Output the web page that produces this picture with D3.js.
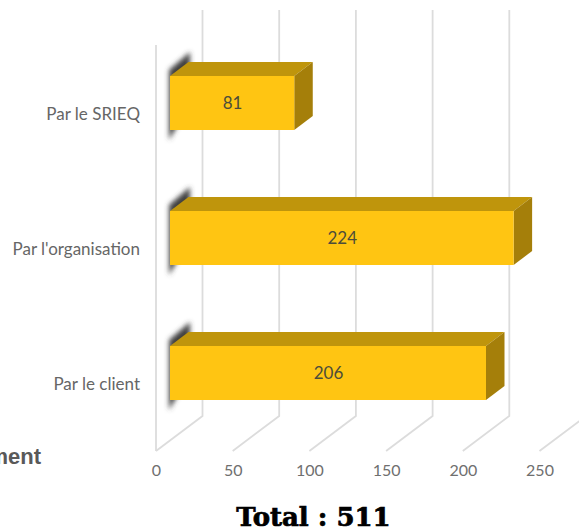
<!DOCTYPE html>
<html><head><meta charset="utf-8">
<script src="https://cdn.jsdelivr.net/npm/d3@7"></script>
<style>html,body{margin:0;padding:0;background:#fff;overflow:hidden}svg{display:block}</style>
</head><body><svg id="c" width="579" height="531"></svg>
<script>
const categories = ["Par le SRIEQ", "Par l'organisation", "Par le client"];
const values = [81, 224, 206];
const xTicks = [0, 50, 100, 150, 200, 250];
const titleText = "Total : 511";
const clippedAxisTitle = "ment";

const svg = d3.select("#c");
const x = d3.scaleLinear().domain([0, 250]).range([156, 539.5]);
const y = d3.scaleBand().domain(categories).range([35.5, 440.5]).paddingInner(0.6).paddingOuter(0.3);

const floorY = 451, backDx = 46.5, backDy = 35, topY = 45;
const barOff = 14, depthX = 18.5, depthY = 14;

const defs = svg.append("defs");
defs.append("filter").attr("id", "soft").attr("x", "-40%").attr("y", "-40%").attr("width", "180%").attr("height", "180%")
  .append("feGaussianBlur").attr("stdDeviation", 2.6);

// gridlines
const grid = svg.append("g").attr("fill", "none").attr("stroke", "#dcdcdc").attr("stroke-width", 1.8);
grid.append("line").attr("x1", x(0)).attr("x2", x(0)).attr("y1", topY).attr("y2", floorY);
xTicks.forEach(t => {
  grid.append("path").attr("d", d3.line()([
    [x(t), floorY], [x(t) + backDx, floorY - backDy], [x(t) + backDx, topY - backDy]
  ]));
});

// bars
const bars = svg.append("g").selectAll("g").data(categories).join("g");
bars.each(function (c, i) {
  const g = d3.select(this);
  const x0 = x(0) + barOff, x1 = x(values[i]) + barOff;
  const y0 = y(c), h = y.bandwidth();
  g.append("polygon").attr("filter", "url(#soft)").attr("fill", "#404040")
    .attr("points", [[169, y0 - 6], [190, y0 - 24], [190, y0 + h - 26], [169, y0 + h + 10]].join(" "));
  g.append("polygon").attr("fill", "#bf950c")
    .attr("points", [[x0, y0], [x0 + depthX, y0 - depthY], [x1 + depthX, y0 - depthY], [x1, y0]].join(" "));
  g.append("polygon").attr("fill", "#a57f0a")
    .attr("points", [[x1, y0], [x1 + depthX, y0 - depthY], [x1 + depthX, y0 + h - depthY], [x1, y0 + h]].join(" "));
  g.append("rect").attr("x", x0).attr("y", y0).attr("width", x1 - x0).attr("height", h).attr("fill", "#ffc512");
  g.append("text").attr("x", (x0 + x1) / 2 + 0.5).attr("y", y0 + h / 2 + 6)
    .attr("text-anchor", "middle").attr("font-family", "Lato, sans-serif").attr("font-size", 17).attr("fill", "#4d4d3a").text(values[i]);
  g.append("text").attr("x", 140).attr("y", y0 + h / 2 + 16.5)
    .attr("text-anchor", "end").attr("font-family", "Lato, sans-serif").attr("font-size", 17).attr("fill", "#666").text(c);
});

// x axis
const axis = svg.append("g").attr("transform", `translate(0,${floorY})`)
  .call(d3.axisBottom(x).tickValues(xTicks).tickSize(0).tickPadding(14));
axis.select(".domain").remove();
axis.selectAll("text").attr("font-family", "Lato, sans-serif").attr("font-size", 16).attr("fill", "#6f6f6f");

svg.append("text").attr("x", 41).attr("y", 464).attr("text-anchor", "end")
  .attr("font-family", "Liberation Sans, Arial, sans-serif").attr("font-weight", 700).attr("font-size", 22).attr("fill", "#595959").text(clippedAxisTitle);
svg.append("text").attr("x", 313.5).attr("y", 526).attr("text-anchor", "middle")
  .attr("font-family", "DejaVu Serif, serif").attr("font-weight", 700).attr("font-size", 26)
  .attr("fill", "#000").attr("stroke", "#000").attr("stroke-width", 0.7).text(titleText);
</script></body></html>
